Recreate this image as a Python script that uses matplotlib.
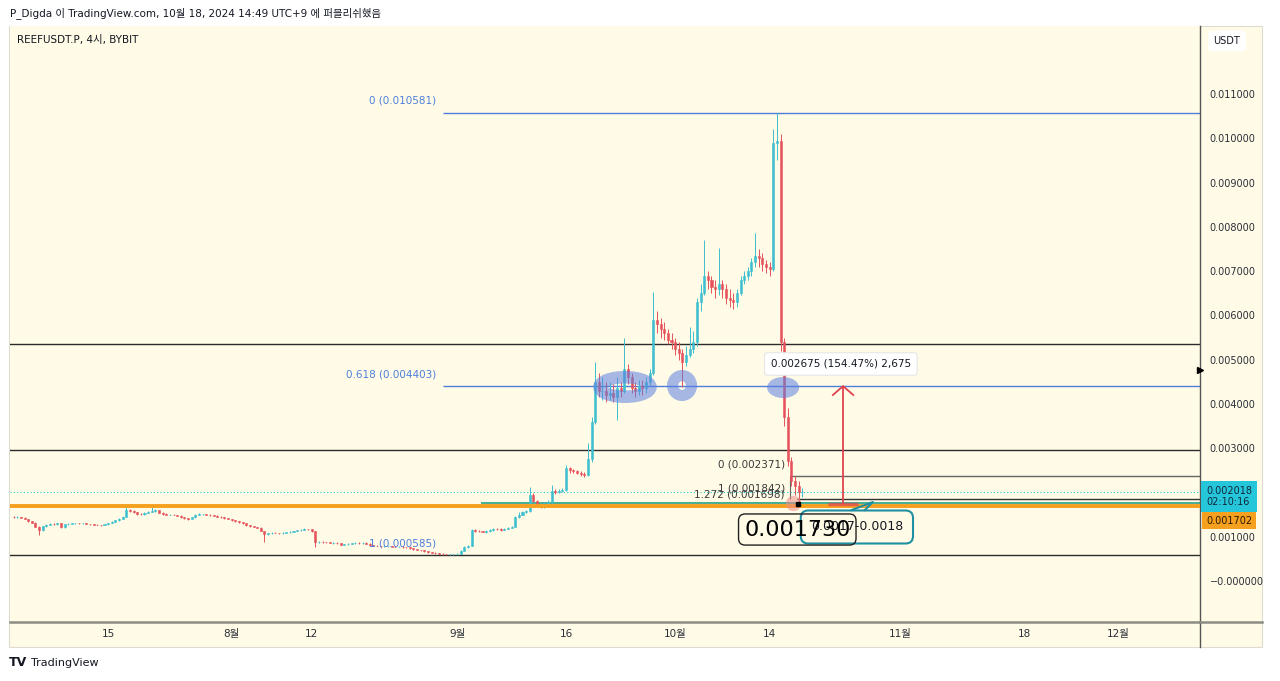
import numpy as np
import matplotlib
matplotlib.use('Agg')
import matplotlib.pyplot as plt
from matplotlib.patches import Ellipse, Rectangle
from matplotlib.lines import Line2D
from matplotlib.transforms import blended_transform_factory

plt.rcParams['font.family'] = ['DejaVu Sans', 'Noto Sans CJK KR']

# === DATA: REEFUSDT.P, 12h candles from 2024-07-02 00:00, prices in 1e-6 USDT ===
first_open_u = 1445
closes_u = [
    1440, 1450, 1430, 1400, 1350, 1320, 1230, 1150, 1240, 1270,   # Jul 2-6
    1290, 1280, 1300, 1210, 1280, 1290, 1300, 1310, 1300, 1300,   # Jul 7-11
    1290, 1280, 1270, 1265, 1260, 1280, 1310, 1340, 1370, 1400,   # Jul 12-16
    1450, 1610, 1580, 1560, 1520, 1510, 1540, 1560, 1580, 1600,   # Jul 17-21
    1540, 1520, 1500, 1500, 1490, 1470, 1440, 1420, 1400, 1440,   # Jul 22-26
    1500, 1510, 1510, 1500, 1480, 1470, 1450, 1440, 1420, 1400,   # Jul 27-31
    1370, 1350, 1330, 1300, 1260, 1240, 1220, 1200, 1130, 1060,   # Aug 1-5
    1080, 1090, 1085, 1080, 1090, 1100, 1110, 1130, 1150, 1160,   # Aug 6-10
    1175, 1170, 1120, 880, 880, 875, 870, 860, 860, 850,          # Aug 11-15
    820, 830, 840, 850, 860, 855, 860, 840, 810, 800,             # Aug 16-20
    790, 780, 780, 785, 775, 770, 770, 765, 760, 740,             # Aug 21-25
    720, 700, 690, 670, 650, 640, 625, 615, 610, 600,             # Aug 26-30
    600, 605, 620, 680, 760, 800, 1150, 1130, 1120, 1110,         # Aug 31 - Sep 4
    1130, 1150, 1180, 1170, 1160, 1180, 1200, 1230, 1450, 1500,   # Sep 5-9
    1560, 1580, 1950, 1800, 1700, 1670, 1760, 1790, 2030, 2010,   # Sep 10-14
    2040, 2060, 2550, 2500, 2480, 2450, 2420, 2400, 2750, 3600,   # Sep 15-19
    4500, 4300, 4300, 4200, 4250, 4150, 4350, 4300, 4800, 4600,   # Sep 20-24
    4350, 4300, 4400, 4350, 4500, 4700, 5900, 5800, 5700, 5600,   # Sep 25-29
    5450, 5400, 5250, 5150, 4950, 5100, 5250, 5400, 6300, 6500,   # Sep 30 - Oct 4
    6900, 6800, 6650, 6600, 6700, 6600, 6400, 6350, 6300, 6500,   # Oct 5-9
    6800, 6900, 7000, 7200, 7350, 7300, 7150, 7100, 7050, 9900,   # Oct 10-14
    9950, 5400, 3700, 2700, 2250, 2150, 2000, 2018,               # Oct 15-18
]
highs_u = [
    1460, 1465, 1455, 1440, 1410, 1360, 1330, 1240, 1250, 1280,
    1300, 1300, 1310, 1305, 1290, 1300, 1310, 1320, 1320, 1310,
    1310, 1295, 1290, 1280, 1275, 1290, 1320, 1350, 1380, 1420,
    1460, 1670, 1620, 1600, 1570, 1540, 1550, 1580, 1670, 1620,
    1610, 1560, 1530, 1520, 1510, 1500, 1480, 1450, 1430, 1450,
    1520, 1530, 1520, 1520, 1510, 1490, 1480, 1460, 1450, 1430,
    1410, 1380, 1360, 1340, 1310, 1270, 1250, 1230, 1210, 1140,
    1090, 1100, 1100, 1095, 1100, 1110, 1120, 1140, 1160, 1175,
    1190, 1185, 1175, 1130, 900, 895, 885, 880, 875, 870,
    855, 840, 850, 860, 870, 870, 870, 870, 850, 820,
    810, 800, 790, 795, 790, 785, 780, 780, 775, 770,
    750, 730, 710, 700, 680, 660, 650, 635, 625, 620,
    615, 615, 630, 690, 780, 820, 1180, 1170, 1150, 1140,
    1150, 1170, 1200, 1200, 1190, 1200, 1220, 1250, 1470, 1560,
    1590, 1610, 2120, 1980, 1830, 1740, 1790, 1830, 2170, 2070,
    2080, 2100, 2620, 2580, 2540, 2510, 2480, 2460, 3120, 3700,
    4950, 4700, 4600, 4500, 4500, 4450, 4600, 4500, 5490, 4900,
    4700, 4500, 4550, 4550, 4600, 4800, 6530, 6100, 5950, 5850,
    5700, 5600, 5500, 5400, 5250, 5300, 5740, 5650, 6400, 6700,
    7700, 7000, 6900, 6800, 7520, 6800, 6700, 6600, 6500, 6600,
    6900, 7000, 7100, 7300, 7860, 7500, 7400, 7250, 7200, 10200,
    10581, 10100, 5500, 3900, 2800, 2371, 2250, 2100,
]
lows_u = [
    1425, 1430, 1420, 1390, 1340, 1300, 1210, 1040, 1140, 1230,
    1260, 1270, 1275, 1200, 1200, 1270, 1280, 1290, 1290, 1290,
    1280, 1270, 1260, 1255, 1250, 1255, 1275, 1300, 1330, 1360,
    1390, 1440, 1560, 1540, 1500, 1490, 1500, 1530, 1550, 1560,
    1530, 1500, 1490, 1480, 1480, 1460, 1430, 1410, 1380, 1390,
    1430, 1490, 1490, 1490, 1470, 1460, 1440, 1430, 1410, 1390,
    1360, 1340, 1320, 1290, 1250, 1230, 1210, 1190, 1120, 880,
    1040, 1070, 1075, 1070, 1070, 1080, 1090, 1100, 1120, 1140,
    1150, 1160, 1110, 770, 860, 860, 855, 850, 845, 840,
    810, 810, 820, 830, 840, 845, 845, 835, 800, 790,
    780, 770, 770, 770, 765, 760, 760, 755, 750, 730,
    710, 690, 680, 660, 640, 630, 615, 605, 595, 585,
    590, 590, 595, 610, 670, 750, 790, 1110, 1100, 1100,
    1090, 1110, 1140, 1150, 1140, 1150, 1170, 1190, 1220, 1420,
    1480, 1530, 1570, 1780, 1680, 1640, 1650, 1740, 1770, 1960,
    1980, 2010, 2040, 2440, 2430, 2410, 2380, 2350, 2380, 2690,
    3550, 4150, 4100, 4050, 4100, 4050, 3640, 4150, 4250, 4450,
    4250, 4150, 4200, 4200, 4250, 4400, 4650, 5600, 5500, 5450,
    5350, 5250, 5100, 5000, 4380, 4850, 5050, 5150, 5300, 6100,
    6450, 6600, 6500, 6400, 6450, 6400, 6250, 6200, 6150, 6200,
    6450, 6700, 6800, 6900, 7100, 7100, 7000, 6950, 6900, 7000,
    9500, 5200, 3500, 2600, 2150, 1950, 1730, 1900,
]

# x axis: days since 2024-07-02
tick_days = [13, 30, 41, 61, 76, 91, 104, 122, 139, 152]
tick_labels = ['15', '8월', '12', '9월', '16', '10월', '14', '11월', '18', '12월']
price_ticks = [0, 0.001, 0.003, 0.004, 0.005, 0.006, 0.007, 0.008, 0.009, 0.010, 0.011]

# drawings
fib_big = [(0, 0.010581), (0.618, 0.004403), (1, 0.000585)]
fib_small = [(0, 0.002371), (1, 0.001842), (1.272, 0.001698)]
black_levels = [0.005354, 0.002959, 0.000585]
green_level = 0.001770
orange_level = 0.001702
last_price = 0.002018
last_low = 0.001730
measure_text = '0.002675 (154.47%) 2,675'
zone_text = '0.0017-0.0018'

# === COLORS ===
BG = '#fffbe6'
UP = '#3dbfd0'
DOWN = '#e5525c'
FIB_BLUE = '#4f7fdc'
HIGHLIGHT = '#5b7fe0'
ORANGE = '#f5a01e'
TEAL = '#26c6da'

closes = np.array(closes_u) / 1e6
opens = np.r_[first_open_u, closes_u[:-1]] / 1e6
highs = np.array(highs_u) / 1e6
lows = np.array(lows_u) / 1e6
t = np.arange(len(closes)) * 0.5
colors = np.where(closes >= opens, UP, DOWN)

W, H = 1280, 681
fig = plt.figure(figsize=(W / 100, H / 100), dpi=100, facecolor='white')

def fx(x):
    return x / W

def fy(y):
    return 1 - y / H

# chart frame (plot + axes strips)
fig.patches.append(Rectangle((fx(9), fy(647)), fx(1262) - fx(9), fy(26) - fy(647),
                             transform=fig.transFigure, fc=BG, ec='#dcdcd0', lw=0.8, zorder=-5))

ax = fig.add_axes([fx(10), fy(622), fx(1200) - fx(10), fy(26) - fy(622)])
ax.set_facecolor(BG)
x_max = 163.2
ax.set_xlim(-0.5, x_max)
ax.set_ylim(-0.000926, 0.012537)

# candles
ax.vlines(t, lows, highs, colors=colors, lw=0.7, zorder=3)
ax.bar(t, closes - opens, bottom=opens, width=0.28, color=colors,
       edgecolor=colors, linewidth=0.4, zorder=3)

# horizontal levels
for lv in black_levels:
    ax.axhline(lv, color='#2b2b2b', lw=1.0, zorder=2)
ax.axhline(last_price, color=TEAL, lw=0.8, ls=(0, (1, 2)), zorder=2)
ax.hlines(green_level, 64.3, x_max, color='#27a085', lw=1.2, zorder=2)
ax.axhline(orange_level, color=ORANGE, lw=2.8, zorder=4)

# big fib retracement
for lvl, price in fib_big:
    if lvl != 1:
        ax.hlines(price, 59.1, x_max, color=FIB_BLUE, lw=1.0, zorder=2)
    ax.annotate(f'{lvl:g} ({price:.6f})', xy=(58.1, price), xytext=(0, 8.5),
                textcoords='offset points', ha='right', va='center',
                fontsize=7.5, color=FIB_BLUE, zorder=5)

# small fib retracement
ax.vlines(106.8, 0.001842, 0.002371, color='#666666', lw=0.8, zorder=2)
ax.hlines(fib_small[0][1], 106.8, x_max, color='#666666', lw=1.0, zorder=2)
ax.hlines(fib_small[1][1], 107.8, x_max, color='#333333', lw=1.0, zorder=2)
for lvl, price in fib_small:
    ax.annotate(f'{lvl:g} ({price:.6f})', xy=(106.1, price), xytext=(0, 8.2),
                textcoords='offset points', ha='right', va='center',
                fontsize=7.5, color='#3a3a3a', zorder=5)

# blue highlight ellipses
ax.add_patch(Ellipse((84.1, 0.004383), 7.0, 0.000441, fc='none', ec=HIGHLIGHT,
                     lw=9, alpha=0.55, zorder=4))
ax.add_patch(Ellipse((91.95, 0.004416), 2.6, 0.00045, fc='none', ec=HIGHLIGHT,
                     lw=8, alpha=0.55, zorder=4))
ax.add_patch(Ellipse((105.85, 0.004371), 4.4, 0.000474, fc=HIGHLIGHT, ec='none',
                     alpha=0.55, zorder=4))

# low markers
ax.plot(107.2, 0.001762, 'o', ms=11, color='#f08a8a', alpha=0.55, mec='none', zorder=5)
ax.plot(107.9, 0.001740, 's', ms=3.5, color='black', zorder=6)

# measure: red arrow from the low up to the 0.618 level
ax.hlines(0.001740, 112.0, 116.2, color='#e0434f', lw=2.5, alpha=0.7, zorder=5)
ax.vlines(114.1, 0.001740, 0.004403, color='#e0434f', lw=1.3, zorder=5)
ax.plot([112.7, 114.1, 115.5], [0.004202, 0.004403, 0.004202], color='#e0434f', lw=1.3, zorder=5)
ax.text(113.8, 0.004902, measure_text, ha='center', va='center', fontsize=7.5,
        color='#131722', zorder=7,
        bbox=dict(boxstyle='round,pad=0.6,rounding_size=0.3', fc='white', ec='#e6e6e6', lw=0.8))

# callout boxes
ax.text(116.0, 0.001220, zone_text, ha='center', va='center', fontsize=9, color='#131722',
        zorder=7, bbox=dict(boxstyle='round,pad=0.8,rounding_size=0.6', fc='none',
                            ec='#1f8fa3', lw=1.5))
ax.plot([115.3, 118.2, 117.1], [0.001604, 0.001785, 0.001604], color='#1f8fa3', lw=1.5, zorder=7)
ax.text(107.8, 0.001163, f'{last_low:.6f}', ha='center', va='center', fontsize=16,
        color='black', zorder=7,
        bbox=dict(boxstyle='round,pad=0.25,rounding_size=0.3', fc='none', ec='#222222', lw=1))

# axes styling
ax.set_xticks(tick_days)
ax.set_xticklabels(tick_labels)
ax.set_yticks(price_ticks)
ax.set_yticklabels(['\u22120.000000' if p == 0 else f'{p:.6f}' for p in price_ticks])
ax.yaxis.tick_right()
ax.tick_params(axis='y', length=0, pad=7, labelsize=7, labelcolor='#2a2e39')
ax.tick_params(axis='x', length=0, pad=5, labelsize=7.5, labelcolor='#2a2e39')
for side in ['top', 'left']:
    ax.spines[side].set_visible(False)
ax.spines['right'].set_color('#555555')
ax.spines['right'].set_linewidth(1.0)
ax.spines['bottom'].set_color('#8c8c84')
ax.spines['bottom'].set_linewidth(1.8)
fig.add_artist(Line2D([fx(1200), fx(1200)], [fy(622), fy(647)], color='#555555', lw=1.0))
fig.add_artist(Line2D([fx(1200), fx(1262)], [fy(622), fy(622)], color='#8c8c84', lw=1.8))

# price tags on the right axis
blend = blended_transform_factory(ax.transAxes, ax.transData)
ax.annotate(f'{last_price:.6f}\n02:10:16', xy=(1.0053, last_price), xycoords=blend,
            xytext=(0, 4.0), textcoords='offset points', ha='left', va='top',
            fontsize=7, color='#10283c', linespacing=1.15, annotation_clip=False, zorder=8,
            bbox=dict(boxstyle='square,pad=0.5', fc=TEAL, ec='none'))
ax.annotate(f'{orange_level:.6f}', xy=(1.0053, orange_level), xycoords=blend,
            xytext=(0, -10.7), textcoords='offset points', ha='left', va='center',
            fontsize=7, color='#2a1a00', annotation_clip=False, zorder=8,
            bbox=dict(boxstyle='square,pad=0.4', fc=ORANGE, ec='none'))
ax.plot(1.0, 0.004766, '>', ms=5, color='black', transform=blend, clip_on=False, zorder=8)
fig.text(fx(1227), fy(41), 'USDT', ha='center', va='center', fontsize=7, color='#131722',
         bbox=dict(boxstyle='round,pad=0.55,rounding_size=0.4', fc='white', ec='none'))

# header, title, footer
fig.text(fx(10), fy(13), 'P_Digda 이 TradingView.com, 10월 18, 2024 14:49 UTC+9 에 퍼블리쉬했음',
         ha='left', va='center', fontsize=7.5, color='#131722')
fig.text(fx(17), fy(40), 'REEFUSDT.P, 4시, BYBIT', ha='left', va='center',
         fontsize=7.5, color='#131722')
fig.text(fx(9), fy(663), 'TV', ha='left', va='center', fontsize=9, fontweight='heavy',
         color='#131722')
fig.text(fx(31), fy(663), 'TradingView', ha='left', va='center', fontsize=8, color='#131722')

fig.savefig('out.png', dpi=100, facecolor='white')
